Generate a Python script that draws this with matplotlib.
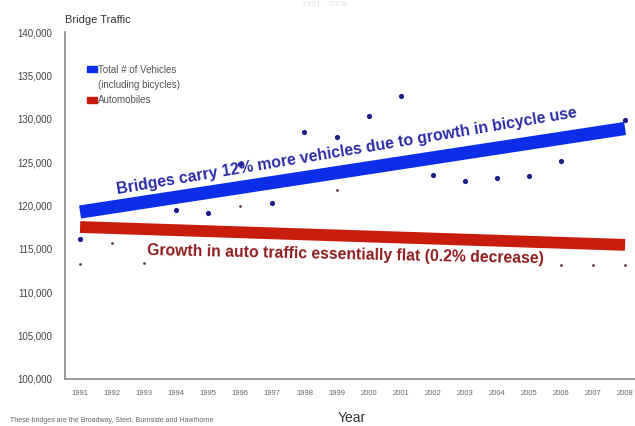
import numpy as np
import matplotlib.pyplot as plt
from matplotlib.patches import Patch

plt.rcParams['font.family'] = ['Liberation Sans', 'DejaVu Sans']

# Annual bridge counts (Broadway, Steel, Burnside, Hawthorne)
years = np.arange(1991, 2009)
total_vehicles = [116150, 119700, 117200, 119470, 119130, 124750, 120280, 128530, 127840,
                  130370, 132660, 123490, 122800, 123140, 123370, 125090, 128100, 129900]
automobiles = [113200, 115690, 113400, 117300, 117100, 119930, 117000, 116800, 121770,
               116500, 116300, 116200, 116100, 116000, 115900, 113160, 113100, 113100]

# Fitted trend lines (start / end values)
trend_years = [1991, 2008]
total_trend = [119250, 128880]
auto_trend = [117520, 115460]

ytick_vals = [100000, 105000, 110000, 115000, 120000, 125000, 130000, 135000, 140000]

fig = plt.figure(figsize=(6.35, 4.26), dpi=100)
ax = fig.add_axes([65 / 635, 1 - 379 / 426, 570 / 635, 347 / 426])

ax.scatter(years, automobiles, s=4, color='#5a3838', zorder=2, linewidths=0)
ax.plot(trend_years, auto_trend, color='#c81c0c', lw=8.5, solid_capstyle='butt', zorder=3)
ax.scatter(years, total_vehicles, s=14, color='#1c1c86', zorder=2, linewidths=0)
ax.plot(trend_years, total_trend, color='#0c2ee8', lw=9.5, solid_capstyle='butt', zorder=3)

ax.set_xlim(1990.53, 2008.31)
ax.set_ylim(100000, 140000)
ax.set_xticks(years)
ax.set_xticklabels([str(y) for y in years], fontsize=5.5, color='#666666')
ax.set_yticks(ytick_vals)
ax.set_yticklabels([f'{v:,}' for v in ytick_vals], fontsize=7, color='#444444')
ax.tick_params(axis='both', length=0)
ax.tick_params(axis='y', pad=9)
ax.tick_params(axis='x', pad=8)

for side in ['top', 'right']:
    ax.spines[side].set_visible(False)
for side in ['left', 'bottom']:
    ax.spines[side].set_color('#888888')
    ax.spines[side].set_linewidth(1.2)

ax.text(1992.18, 121300, 'Bridges carry 12% more vehicles due to growth in bicycle use',
        rotation=9.5, rotation_mode='anchor', ha='left', va='baseline',
        fontsize=11.4, fontweight='bold', color='#2a2aa6', zorder=5)
ax.text(1993.09, 114310, 'Growth in auto traffic essentially flat (0.2% decrease)',
        rotation=-1.2, rotation_mode='anchor', ha='left', va='baseline',
        fontsize=11.3, fontweight='bold', color='#8e1c1c', zorder=5)

# legend: second line of the first label gets an invisible handle
handles = [Patch(color='#0c2ee8', label='Total # of Vehicles'),
           Patch(color='none', label='(including bicycles)'),
           Patch(color='#c81c0c', label='Automobiles')]
leg = ax.legend(handles=handles, loc='upper left', bbox_to_anchor=(0.03, 0.92),
                frameon=False, fontsize=7, handlelength=1.0, handleheight=0.6,
                handletextpad=0.1, labelspacing=0.55, borderpad=0)
for t in leg.get_texts():
    t.set_color('#555555')

fig.text(65 / 635, 1 - 20 / 426, 'Bridge Traffic', fontsize=8, color='#333333',
         ha='left', va='center')
fig.text(352 / 635, 1 - 418 / 426, 'Year', fontsize=10, color='#333333',
         ha='center', va='center')
fig.text(10 / 635, 1 - 421 / 426, 'These bridges are the Broadway, Steel, Burnside and Hawthorne',
         fontsize=5, color='#666666', ha='left', va='center')
fig.text(324 / 635, 1 - 1 / 426, '1991 - 2008', fontsize=6, color='#e2e2e2',
         ha='center', va='top')

fig.savefig('out.png', dpi=100)
